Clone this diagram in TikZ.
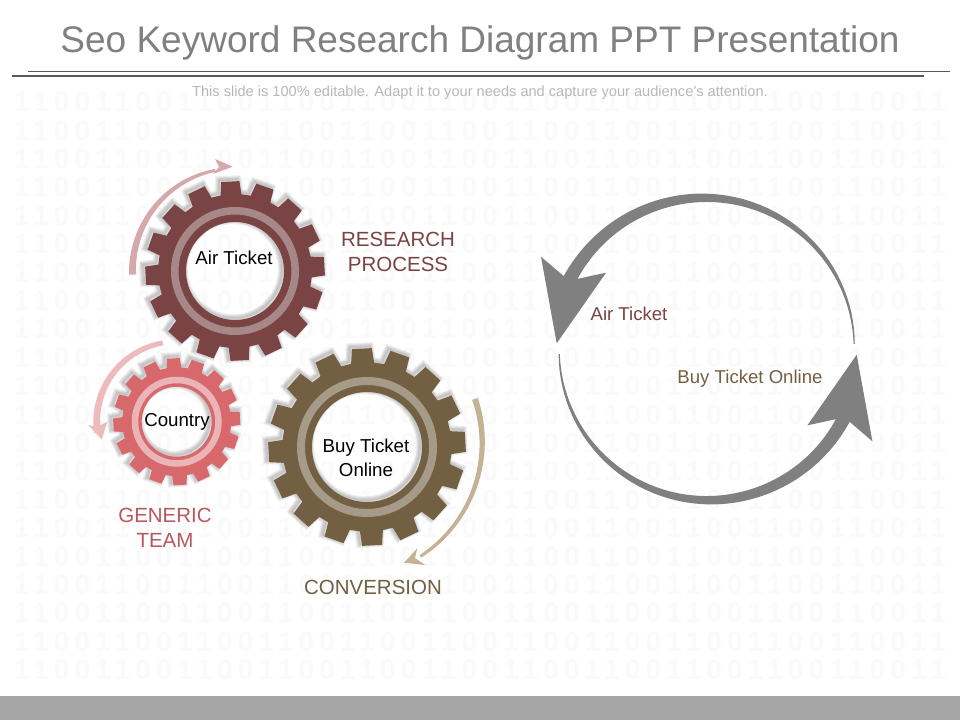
\documentclass[tikz,border=0pt]{standalone}
\usepackage{fontspec}
\setmainfont{Liberation Sans}
\newfontfamily\bitfont[LetterSpace=18.6]{Liberation Sans Bold}
\definecolor{wine}{HTML}{7A4444}
\definecolor{winering}{HTML}{A68888}
\definecolor{winearc}{HTML}{D5A9AB}
\definecolor{rose}{HTML}{D7686C}
\definecolor{rosering}{HTML}{EBB4B7}
\definecolor{rosearc}{HTML}{EDBABD}
\definecolor{umber}{HTML}{736042}
\definecolor{umberring}{HTML}{A69A88}
\definecolor{umberarc}{HTML}{C4B294}
\definecolor{bits}{HTML}{FAFAFA}
\tikzset{
    gearlabel/.style={text=black,font=\fontsize{18.7}{24}\selectfont,align=center,inner sep=0pt},
    sidelabel/.style={font=\fontsize{20.5}{25}\selectfont,align=center,inner sep=0pt},
    cyclelabel/.style={font=\fontsize{18.6}{22}\selectfont,inner sep=0pt},
    bitrow/.style={text=bits,font=\bitfont\fontsize{28}{28}\selectfont,inner sep=0pt}
}
% teeth and hole of one wheel, radius #1, hole #2
\newcommand{\gearoutline}[2]{
    ({-7.8}:{#1*.855})
    \foreach \k in {0,...,15}{
        -- ({\k*22.5-7.8}:{#1*.855}) -- ({\k*22.5-5.8}:#1) -- ({\k*22.5+5.8}:#1) -- ({\k*22.5+7.8}:{#1*.855})
    } -- cycle
    (0,0) circle (#2)
}
% centre x, centre y, radius, hole, ring in, ring out, colour, ring colour
\newcommand{\gearwheel}[8]{
    \begin{scope}[shift={(#1,#2)},rotate=3]
        \foreach \w in {8,6,4,2}
        \draw[black,opacity=.06,even odd rule,line width=\w pt,shift={(-2,2)}] \gearoutline{#3}{#4};
        \fill[#7,even odd rule] \gearoutline{#3}{#4};
        \fill[#8,even odd rule] (0,0) circle (#6) (0,0) circle (#5);
    \end{scope}
}
% tapered arc: centre, from, to, radius, width, width, colour
\newcommand{\swoosh}[7]{
    \fill[#7,shift={(#1)}]
    plot[domain=#2:#3,samples=40] (\x:{#4+.5*(#5+(#6-#5)*(\x-(#2))/((#3)-(#2)))})
    -- plot[domain=#3:#2,samples=40] (\x:{#4-.5*(#5+(#6-#5)*(\x-(#2))/((#3)-(#2)))}) -- cycle;
}
\newcommand{\cyclearrow}{
    \fill[black!50]
    plot[domain=2:153,samples=50] (\x:{148+12.5*\x/153})
    -- (-165.7,92.3) -- (-150,5.7) -- (-100.7,76.3) -- (151.5:147)
    arc[start angle=151.5,end angle=2,radius=147] -- cycle;
}
\begin{document}
\begin{tikzpicture}[x=1pt,y=1pt]
    \useasboundingbox (0,0) rectangle (960,-720);
    \fill[white] (0,0) rectangle (960,-720);

    % backdrop
    \foreach \r in {0,...,20}
    \node[bitrow] (row\r) at (480,{-102-28.4*\r}) {1100110011001100110011001100110011001100110011};

    % title
    \node[text=black!50,font=\fontsize{37}{40}\selectfont,inner sep=0pt] (title) at (480,-43) {Seo\ Keyword\ Research\ Diagram\ PPT\ Presentation};
    \node[text=black!28,font=\fontsize{14.6}{15}\selectfont,inner sep=0pt] (subtitle) at (480,-93) {This slide is 100\% editable. Adapt it to your needs and capture your audience's attention.};
    \draw[black!65,line width=1pt] (28,-71) -- (950,-71);
    \draw[black!65,line width=2.2pt] (12,-76) -- (924,-76);
    \fill[black!35] (0,-696) rectangle (960,-720);

    % gears
    \gearwheel{235}{-271}{90}{49}{56.5}{64}{wine}{winering}
    \gearwheel{176.7}{-421.7}{63.7}{35}{38.5}{45}{rose}{rosering}
    \gearwheel{367}{-447}{99}{55}{62}{70}{umber}{umberring}

    % arcs around gears
    \swoosh{235,-271}{182}{101}{102.5}{7}{3}{winearc}
    \fill[winearc] (232.7,-166.7) -- (215,-159) -- (219,-167) -- (213,-174) -- cycle;
    \swoosh{176.7,-421.7}{100}{188}{80}{5}{7}{rosearc}
    \fill[rosearc] (101.7,-439.3) -- (88.3,-425) -- (97,-427) -- (107.3,-421.7) -- cycle;
    \swoosh{346.6,-442.6}{18.8}{-57}{135.6}{6}{3}{umberarc}
    \fill[umberarc] (404,-562.7) -- (417.3,-548.3) -- (415,-558) -- (425,-565) -- cycle;

    % gear texts
    \node[gearlabel] (ticket) at (234,-258) {Air Ticket};
    \node[gearlabel] (country) at (177,-421.5) {Country};
    \node[gearlabel] (online) at (366,-457.5) {Buy Ticket\\Online};
    \node[sidelabel,text=wine] (research) at (398,-252) {RESEARCH\\PROCESS};
    \node[sidelabel,text=rose!85!black] (generic) at (165,-528) {GENERIC\\TEAM};
    \node[sidelabel,text=umber] (conversion) at (373,-587) {CONVERSION};

    % cycle on the right
    \begin{scope}[shift={(706.7,-349)}]
        \cyclearrow
    \end{scope}
    \begin{scope}[shift={(706.7,-349)},rotate=180]
        \cyclearrow
    \end{scope}
    \node[cyclelabel,text=wine] (air) at (629,-313.5) {Air Ticket};
    \node[cyclelabel,text=umber] (buy) at (750,-379) {Buy Ticket Online};
\end{tikzpicture}
\end{document}
